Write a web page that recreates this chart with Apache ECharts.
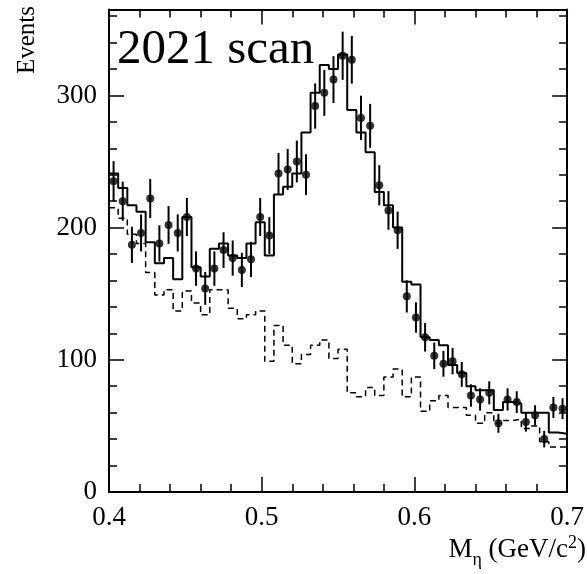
<!DOCTYPE html>
<html><head><meta charset="utf-8">
<script src="https://cdn.jsdelivr.net/npm/echarts@6/dist/echarts.min.js"></script>
<style>html,body{margin:0;padding:0;background:#fff}#c{width:587px;height:574px}</style>
</head><body><div id="c"></div>
<script>
// Binning: 50 bins of 0.006 from 0.4 to 0.7
const xMin = 0.4, xMax = 0.7, binWidth = 0.006;
const counts = [235,220,187,196,222,188,202,196,208,169,154,169,183,177,168,176,208,194,241,244,
                250,240,292,302,312,330,327,283,277,232,213,198,148,132,117,103,97,99,89,73,
                70,75,52,70,68,53,58,40,64,63];
const errors = [15.3,14.8,13.7,14.0,14.9,13.7,14.2,14.0,14.4,13.0,12.4,13.0,13.5,13.3,13.0,13.3,14.4,13.9,15.5,15.6,
                15.8,15.5,17.1,17.4,17.7,18.2,18.1,16.8,16.6,15.2,14.6,14.1,12.2,11.5,10.8,10.1,9.8,10.0,9.4,8.5,
                8.4,8.7,7.2,8.4,8.2,7.3,7.6,6.3,8.0,7.9];
const fitTotal = [241,230,217,212,189,173,177,161,208,170,163,184,188,179,177,188,204,179,225,231,
                  241,272,302,323,320,331,289,272,257,227,217,200,159,157,117,115,111,96,90,80,
                  77,77,62,68,67,60,60,60,45,44];
const fitBkg = [215,207,195,188,166,149,153,137,152,143,134,153,153,139,131,134,137,99,126,111,
                97,104,111,115,101,108,75,72,79,73,87,93,72,87,61,69,73,64,64,58,
                52,60,52,54,55,48,50,38,34,34];
const xTickValues = [0.4, 0.5, 0.6, 0.7];
const yTickValues = [0, 100, 200, 300];
const titleText = '2021 scan';
const yTitle = 'Events';

const FONT = '"Liberation Serif", "DejaVu Serif", serif';
const binCenter = i => xMin + (i + 0.5) * binWidth;
const stepData = arr => arr.map((v, i) => [xMin + i * binWidth, v]).concat([[xMax, arr[arr.length - 1]]]);

const chart = echarts.init(document.getElementById('c'), null, {renderer: 'canvas'});

const tickCommon = {
  axisLine: {show: true, onZero: false, lineStyle: {color: '#000', width: 2}},
  axisTick: {show: true, inside: true, length: 15, lineStyle: {color: '#000', width: 1.5}},
  minorTick: {show: true, splitNumber: 5, length: 8, lineStyle: {color: '#000', width: 1.5}},
  splitLine: {show: false}, minorSplitLine: {show: false}
};

// measure widths for x-axis title pieces
const cv = document.createElement('canvas').getContext('2d');
function w(txt, size) { cv.font = size + 'px ' + FONT; return cv.measureText(txt).width; }
const big = 27, small = 18;
const pieces = [['M', big, 0], ['η', small, 6], [' (GeV/c', big, 0], ['2', small, -11], [')', big, 0]];
let total = 0; pieces.forEach(p => total += w(p[0], p[1]));
let cx = 586 - total;
const baseY = 563;
const xTitleEls = pieces.map(p => {
  const el = {type: 'text', x: cx, y: baseY + p[2], style: {text: p[0], font: p[1] + 'px ' + FONT, fill: '#000', textAlign: 'left', textVerticalAlign: 'bottom'}};
  cx += w(p[0], p[1]);
  return el;
});

chart.setOption({
  animation: false,
  backgroundColor: '#fff',
  grid: {left: 109, right: 18, top: 9.5, bottom: 82, show: false},
  xAxis: [
    Object.assign({type: 'value', min: xMin, max: xMax, interval: 0.1, position: 'bottom',
      axisLabel: {show: true, color: '#000', fontFamily: FONT, fontSize: 27, margin: 12,
        formatter: v => xTickValues.some(t => Math.abs(t - v) < 1e-6) ? v.toFixed(1) : ''}}, tickCommon),
    Object.assign({type: 'value', min: xMin, max: xMax, interval: 0.1, position: 'top',
      axisLabel: {show: false}}, tickCommon)
  ],
  yAxis: [
    Object.assign({type: 'value', min: 0, max: 365, interval: 100, position: 'left',
      axisLabel: {show: true, color: '#000', fontFamily: FONT, fontSize: 27, margin: 12, showMaxLabel: false,
        formatter: v => yTickValues.indexOf(Math.round(v)) >= 0 ? String(Math.round(v)) : ''}}, tickCommon),
    Object.assign({type: 'value', min: 0, max: 365, interval: 100, position: 'right',
      axisLabel: {show: false}}, tickCommon)
  ],
  series: [
    {type: 'line', name: 'background', step: 'end', data: stepData(fitBkg), symbol: 'none', silent: true,
      lineStyle: {color: '#000', width: 1.5, type: [6, 4]}, z: 2},
    {type: 'line', name: 'fit', step: 'end', data: stepData(fitTotal), symbol: 'none', silent: true,
      lineStyle: {color: '#000', width: 2}, z: 3},
    {type: 'custom', name: 'errors', z: 4, silent: true,
      data: counts.map((v, i) => [binCenter(i), v - errors[i], v + errors[i]]),
      encode: {x: 0, y: [1, 2]},
      renderItem: (params, api) => {
        const p1 = api.coord([api.value(0), api.value(1)]);
        const p2 = api.coord([api.value(0), api.value(2)]);
        return {type: 'line', shape: {x1: p1[0], y1: p1[1], x2: p2[0], y2: p2[1]},
          style: {stroke: '#000', lineWidth: 2}};
      }},
    {type: 'scatter', name: 'data', z: 5, silent: true, symbol: 'circle', symbolSize: 8,
      itemStyle: {color: '#000'},
      data: counts.map((v, i) => [binCenter(i), v])}
  ],
  graphic: [
    {type: 'text', x: 117, y: 50, z: 10, style: {text: titleText, font: '49px ' + FONT, fill: '#000', textAlign: 'left', textVerticalAlign: 'middle'}},
    {type: 'text', x: 27, y: 40, rotation: Math.PI / 2, z: 10, style: {text: yTitle, font: '25px ' + FONT, fill: '#000', textAlign: 'center', textVerticalAlign: 'middle'}}
  ].concat(xTitleEls)
});
</script>
</body></html>
